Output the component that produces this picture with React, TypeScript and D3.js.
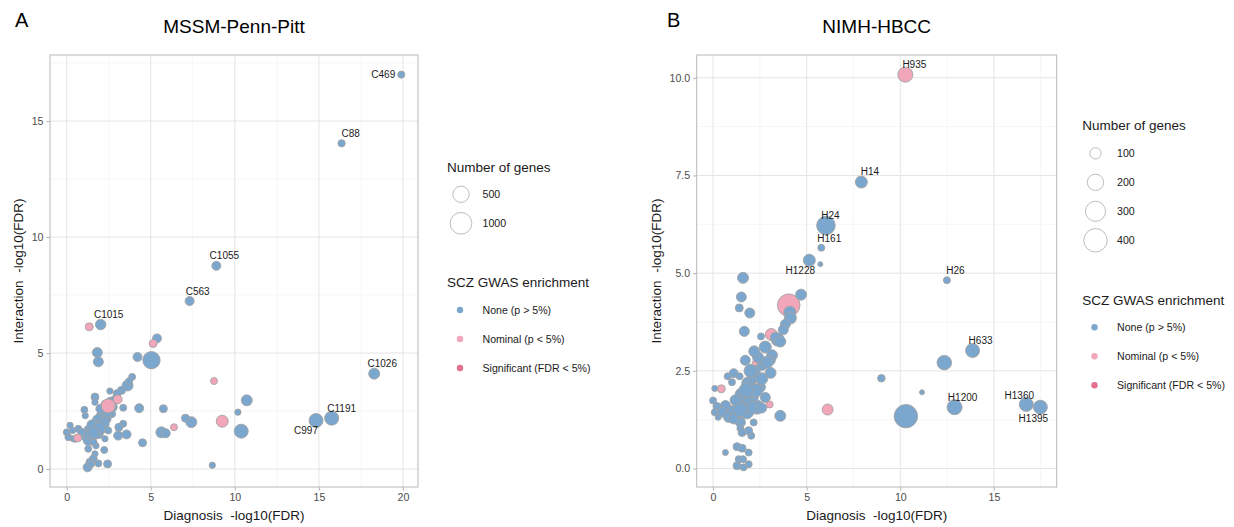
import { useEffect, useRef } from 'react'
import * as d3 from 'd3'

// [diagnosis -log10(FDR), interaction -log10(FDR), number of genes, label]
type Pt = [number, number, number, string?]

const mssmNone: Pt[] = [
  [19.9, 17.0, 40, 'C469'], [16.35, 14.04, 45, 'C88'], [8.9, 8.76, 94, 'C1055'],
  [7.31, 7.24, 94, 'C563'], [2.02, 6.23, 150, 'C1015'], [18.29, 4.11, 172, 'C1026'],
  [15.76, 2.19, 335, 'C1191'], [14.83, 2.09, 335, 'C997'],
  [5.37, 5.63, 94], [5.04, 4.69, 585], [4.21, 4.83, 94], [1.82, 5.02, 130], [1.88, 4.62, 130],
  [10.71, 2.96, 172], [10.18, 2.45, 25], [10.38, 1.63, 335], [8.66, 0.16, 25], [7.41, 2.02, 172],
  [7.06, 2.19, 63], [5.63, 1.58, 172], [5.89, 1.54, 94], [5.75, 2.6, 63], [4.31, 2.62, 94],
  [4.51, 1.13, 63], [3.62, 3.6, 172], [3.89, 3.97, 38], [3.71, 3.78, 38], [3.26, 3.39, 63],
  [3.0, 3.25, 63], [2.57, 3.36, 25], [3.36, 2.64, 38], [3.36, 1.95, 38], [3.1, 1.8, 63],
  [3.06, 1.44, 94], [3.56, 1.49, 94], [1.68, 3.1, 63], [1.68, 2.88, 25], [1.05, 2.55, 38],
  [1.1, 2.3, 25], [2.27, 2.52, 130], [2.07, 2.31, 130], [1.88, 2.09, 221], [1.68, 1.8, 335],
  [1.38, 1.66, 221], [1.19, 1.44, 221], [1.48, 1.37, 130], [1.28, 1.23, 130], [1.88, 1.52, 130],
  [2.17, 1.73, 63], [2.37, 2.16, 94], [2.67, 2.38, 63], [2.77, 2.67, 63], [2.17, 1.95, 221],
  [2.47, 1.66, 38], [2.27, 1.3, 25], [2.6, 2.9, 94], [2.9, 3.0, 94], [0.2, 1.88, 25],
  [0.1, 1.37, 38], [0.0, 1.58, 38], [0.35, 1.66, 25], [0.69, 1.73, 38], [0.89, 1.58, 63],
  [0.5, 1.3, 38], [0.4, 1.3, 25], [1.28, 0.87, 38], [1.68, 0.65, 25], [2.23, 0.82, 38],
  [1.58, 0.43, 63], [1.38, 0.29, 63], [1.88, 0.24, 38], [2.43, 0.22, 63], [1.24, 0.07, 94],
  [1.44, 0.2, 38], [1.74, 1.0, 25], [1.6, 1.15, 38],
  [1.5, 1.9, 130], [1.95, 1.75, 221], [1.3, 1.5, 94], [2.0, 2.6, 94], [2.3, 2.8, 63],
  [1.6, 1.55, 221], [2.45, 2.45, 94],
]

const mssmNominal: Pt[] = [
  [1.34, 6.13, 63], [5.14, 5.41, 63], [8.76, 3.79, 38], [9.25, 2.06, 221],
  [6.38, 1.8, 38], [2.47, 2.72, 335], [3.03, 3.0, 94], [0.65, 1.34, 63],
]

const hbccNone: Pt[] = [
  [7.92, 7.33, 112, 'H14'], [6.03, 6.22, 257, 'H24'], [5.78, 5.65, 42, 'H161'],
  [5.14, 5.33, 112, 'H1228'], [12.49, 4.82, 42, 'H26'], [13.86, 3.02, 149, 'H633'],
  [12.9, 1.57, 171, 'H1200'], [16.73, 1.64, 149, 'H1360'], [17.48, 1.57, 149, 'H1395'],
  [5.73, 5.23, 23], [12.35, 2.71, 160], [8.99, 2.31, 48], [11.16, 1.95, 23], [10.3, 1.34, 400],
  [3.59, 1.35, 95], [4.7, 4.45, 95], [4.1, 4.0, 112], [4.13, 3.85, 112], [3.86, 3.69, 80],
  [3.75, 3.55, 80], [1.6, 4.88, 95], [1.51, 4.39, 80], [1.4, 4.11, 53], [1.96, 3.98, 80],
  [1.67, 3.51, 80], [2.56, 3.38, 42], [3.45, 3.3, 130], [3.33, 3.36, 80], [3.59, 3.25, 95],
  [2.79, 3.11, 112], [3.15, 2.9, 95], [3.06, 2.77, 80], [2.62, 2.64, 80], [2.26, 2.51, 80],
  [1.72, 2.77, 80], [2.88, 2.72, 112], [1.1, 2.44, 66], [0.78, 2.36, 42], [1.42, 2.36, 42],
  [1.01, 2.21, 42], [0.09, 2.05, 32], [0.0, 1.74, 42], [0.21, 1.59, 53], [0.09, 1.44, 42],
  [0.27, 1.31, 32], [1.28, 1.4, 149], [1.01, 1.46, 112], [1.63, 1.65, 193], [1.99, 1.82, 193],
  [2.35, 1.57, 149], [1.9, 2.17, 149], [2.17, 2.34, 112], [2.05, 1.95, 112], [2.79, 1.82, 80],
  [2.53, 2.08, 80], [1.46, 1.18, 80], [0.66, 1.61, 80], [0.5, 1.44, 80], [0.83, 1.31, 80],
  [1.1, 1.27, 80], [2.17, 1.18, 42], [1.46, 1.03, 42], [1.55, 0.92, 53], [2.04, 0.84, 42],
  [1.9, 0.97, 53], [1.28, 0.56, 53], [1.55, 0.52, 53], [0.66, 0.41, 32], [1.9, 0.41, 42],
  [1.37, 0.24, 42], [1.6, 0.24, 42], [1.9, 0.11, 42], [1.28, 0.07, 53], [1.63, 0.03, 42],
  [2.3, 2.0, 130], [2.6, 2.3, 112], [1.8, 1.45, 149], [2.1, 1.55, 112], [3.07, 2.45, 95],
  [1.5, 1.9, 112], [2.0, 2.5, 130], [1.75, 2.0, 149], [2.4, 2.85, 95], [1.2, 1.75, 95],
  [2.6, 1.55, 80], [1.45, 1.5, 149], [2.2, 3.0, 95],
]

const hbccNominal: Pt[] = [
  [10.27, 10.08, 171, 'H935'], [4.04, 4.18, 373], [3.11, 3.43, 112], [2.35, 2.68, 80],
  [0.44, 2.04, 53], [3.02, 1.64, 42], [6.12, 1.51, 95],
]

const enrichLabels = ['None (p > 5%)', 'Nominal (p < 5%)', 'Significant (FDR < 5%)']
const mssmSizeBreaks = [500, 1000]
const hbccSizeBreaks = [100, 200, 300, 400]
const mssmXTicks = [0, 5, 10, 15, 20]
const mssmYTicks = [0, 5, 10, 15]
const hbccXTicks = [0, 5, 10, 15]
const hbccYTicks = [0, 2.5, 5, 7.5, 10]

// label nudges (px, text centre) — mimic ggrepel placement
const labelNudge: Record<string, [number, number]> = {
  C469: [-18, 3.5], C88: [9, -6.5], C1055: [8, -6.5], C563: [8, -6], C1015: [8, -6.5],
  C1026: [8, -7], C1191: [10, -6], C997: [-10, 13.5],
  H935: [9, -6.5], H14: [8.5, -7], H24: [4.5, -6], H161: [8, -6], H1228: [-9, 13.5],
  H26: [8.5, -6.5], H633: [8, -6.5], H1200: [8, -6], H1360: [-7, -5.5], H1395: [-7, 15],
}

const W = 1234
const H = 527
const FONT = '"Liberation Sans", Arial, Helvetica, sans-serif'
const FILL = ['#7BA6CD', '#F1A7B9', '#E5708F']

interface Panel {
  letter: string; letterX: number
  title: string
  box: { l: number; r: number; t: number; b: number }
  xTicks: number[]; yTicks: number[]; yFmt: (v: number) => string
  none: Pt[]; nominal: Pt[]; nominalOnTop: boolean
  sizeDomain: [number, number]; sizeRange: [number, number]; sizeBreaks: number[]
  yTitleX: number
  legX: number; legKeyX: number; legTextX: number
  sizeTitleY: number; sizeFirstY: number
  enrTitleY: number; enrFirstY: number
}

const panels: Panel[] = [
  {
    letter: 'A', letterX: 15, title: 'MSSM-Penn-Pitt',
    box: { l: 50, r: 418, t: 55, b: 487 },
    xTicks: mssmXTicks, yTicks: mssmYTicks, yFmt: d3.format('d'),
    none: mssmNone, nominal: mssmNominal, nominalOnTop: true,
    sizeDomain: [20, 1400], sizeRange: [3, 12.5], sizeBreaks: mssmSizeBreaks,
    yTitleX: 23,
    legX: 447, legKeyX: 461, legTextX: 482.5,
    sizeTitleY: 172, sizeFirstY: 194.3, enrTitleY: 286.5, enrFirstY: 310,
  },
  {
    letter: 'B', letterX: 667, title: 'NIMH-HBCC',
    box: { l: 696.7, r: 1056.7, t: 55, b: 487 },
    xTicks: hbccXTicks, yTicks: hbccYTicks, yFmt: d3.format('.1f'),
    none: hbccNone, nominal: hbccNominal, nominalOnTop: false,
    sizeDomain: [10, 420], sizeRange: [1.5, 12], sizeBreaks: hbccSizeBreaks,
    yTitleX: 661,
    legX: 1082.3, legKeyX: 1095.5, legTextX: 1117,
    sizeTitleY: 130, sizeFirstY: 153.3, enrTitleY: 305, enrFirstY: 327.3,
  },
]

function expand(vals: number[]): [number, number] {
  const [lo, hi] = d3.extent(vals) as [number, number]
  const pad = (hi - lo) * 0.05
  return [lo - pad, hi + pad]
}

function drawPanel(svg: d3.Selection<SVGSVGElement, unknown, null, undefined>, p: Panel) {
  const { l, r, t, b } = p.box
  const all = [...p.none, ...p.nominal]
  const x = d3.scaleLinear().domain(expand(all.map((d) => d[0]))).range([l, r])
  const y = d3.scaleLinear().domain(expand(all.map((d) => d[1]))).range([b, t])
  const size = d3.scaleSqrt().domain(p.sizeDomain).range(p.sizeRange).clamp(true)

  const g = svg.append('g').attr('font-family', FONT)

  // panel letter + title
  g.append('text').attr('x', p.letterX).attr('y', 27).attr('font-size', 20).attr('fill', '#000').text(p.letter)
  g.append('text').attr('x', (l + r) / 2).attr('y', 33).attr('text-anchor', 'middle')
    .attr('font-size', 19).attr('fill', '#000').text(p.title)

  // grid: minor then major
  const step = (a: number[]) => a[1] - a[0]
  const minorX = d3.range(p.xTicks[0] - step(p.xTicks) / 2, x.domain()[1], step(p.xTicks))
    .filter((v) => v > x.domain()[0] && v < x.domain()[1])
  const minorY = d3.range(p.yTicks[0] - step(p.yTicks) / 2, y.domain()[1], step(p.yTicks))
    .filter((v) => v > y.domain()[0] && v < y.domain()[1])
  const grid = g.append('g')
  minorX.forEach((v) => grid.append('line').attr('x1', x(v)).attr('x2', x(v)).attr('y1', t).attr('y2', b)
    .attr('stroke', '#F0F0F0').attr('stroke-width', 0.6))
  minorY.forEach((v) => grid.append('line').attr('x1', l).attr('x2', r).attr('y1', y(v)).attr('y2', y(v))
    .attr('stroke', '#F0F0F0').attr('stroke-width', 0.6))
  p.xTicks.forEach((v) => grid.append('line').attr('x1', x(v)).attr('x2', x(v)).attr('y1', t).attr('y2', b)
    .attr('stroke', '#E4E4E4').attr('stroke-width', 1))
  p.yTicks.forEach((v) => grid.append('line').attr('x1', l).attr('x2', r).attr('y1', y(v)).attr('y2', y(v))
    .attr('stroke', '#E4E4E4').attr('stroke-width', 1))

  // points
  const layers = p.nominalOnTop ? [[p.none, 0], [p.nominal, 1]] : [[p.nominal, 1], [p.none, 0]]
  layers.forEach(([pts, k]) => {
    g.append('g').selectAll('circle').data(pts as Pt[]).join('circle')
      .attr('cx', (d) => x(d[0])).attr('cy', (d) => y(d[1])).attr('r', (d) => size(d[2]))
      .attr('fill', FILL[k as number]).attr('stroke', '#A3A3A3').attr('stroke-width', 0.9)
  })

  // labels
  all.filter((d) => d[3]).forEach((d) => {
    const [dx, dy] = labelNudge[d[3] as string] ?? [0, -7]
    g.append('text')
      .attr('x', x(d[0]) + dx).attr('y', y(d[1]) + dy)
      .attr('text-anchor', 'middle')
      .attr('font-size', 10).attr('fill', '#1A1A1A').text(d[3] as string)
  })

  // panel border
  g.append('rect').attr('x', l).attr('y', t).attr('width', r - l).attr('height', b - t)
    .attr('fill', 'none').attr('stroke', '#B8B8B8').attr('stroke-width', 1)

  // axes
  const xa = g.append('g').attr('transform', `translate(0,${b})`)
    .call(d3.axisBottom(x).tickValues(p.xTicks).tickSize(3.5).tickPadding(3).tickFormat(d3.format('d')))
  const ya = g.append('g').attr('transform', `translate(${l},0)`)
    .call(d3.axisLeft(y).tickValues(p.yTicks).tickSize(3.5).tickPadding(3).tickFormat(p.yFmt))
  ;[xa, ya].forEach((a) => {
    a.select('.domain').remove()
    a.selectAll('line').attr('stroke', '#B3B3B3')
    a.selectAll('text').attr('font-size', 10.6).attr('fill', '#4D4D4D').attr('font-family', FONT)
  })

  // axis titles
  g.append('text').attr('x', (l + r) / 2).attr('y', 520).attr('text-anchor', 'middle')
    .attr('font-size', 13.5).attr('fill', '#1A1A1A').attr('xml:space', 'preserve')
    .text('Diagnosis  -log10(FDR)')
  g.append('text').attr('transform', `translate(${p.yTitleX},${(t + b) / 2}) rotate(-90)`)
    .attr('text-anchor', 'middle').attr('font-size', 13.5).attr('fill', '#1A1A1A')
    .attr('xml:space', 'preserve').text('Interaction  -log10(FDR)')

  // size legend
  const leg = g.append('g')
  leg.append('text').attr('x', p.legX).attr('y', p.sizeTitleY).attr('font-size', 13.5)
    .attr('fill', '#1A1A1A').text('Number of genes')
  p.sizeBreaks.forEach((v, i) => {
    const cy = p.sizeFirstY + i * 29
    leg.append('circle').attr('cx', p.legKeyX).attr('cy', cy).attr('r', size(v))
      .attr('fill', '#fff').attr('stroke', '#BDBDBD').attr('stroke-width', 1)
    leg.append('text').attr('x', p.legTextX).attr('y', cy + 3.8).attr('font-size', 10.6)
      .attr('fill', '#1A1A1A').text(String(v))
  })

  // enrichment legend
  leg.append('text').attr('x', p.legX).attr('y', p.enrTitleY).attr('font-size', 13.5)
    .attr('fill', '#1A1A1A').text('SCZ GWAS enrichment')
  enrichLabels.forEach((lab, i) => {
    const cy = p.enrFirstY + i * 29
    leg.append('circle').attr('cx', p.legKeyX - 1).attr('cy', cy).attr('r', 3.2).attr('fill', FILL[i])
    leg.append('text').attr('x', p.legTextX).attr('y', cy + 3.8).attr('font-size', 10.6)
      .attr('fill', '#1A1A1A').text(lab)
  })
}

export default function App() {
  const svgRef = useRef<SVGSVGElement>(null)

  useEffect(() => {
    const svg = d3.select(svgRef.current as SVGSVGElement)
    svg.selectAll('*').remove()
    svg.append('rect').attr('width', W).attr('height', H).attr('fill', '#fff')
    panels.forEach((p) => drawPanel(svg, p))
  }, [])

  return (
    <svg ref={svgRef} width={W} height={H} viewBox={`0 0 ${W} ${H}`}
      style={{ position: 'absolute', left: 0, top: 0, display: 'block' }} />
  )
}
